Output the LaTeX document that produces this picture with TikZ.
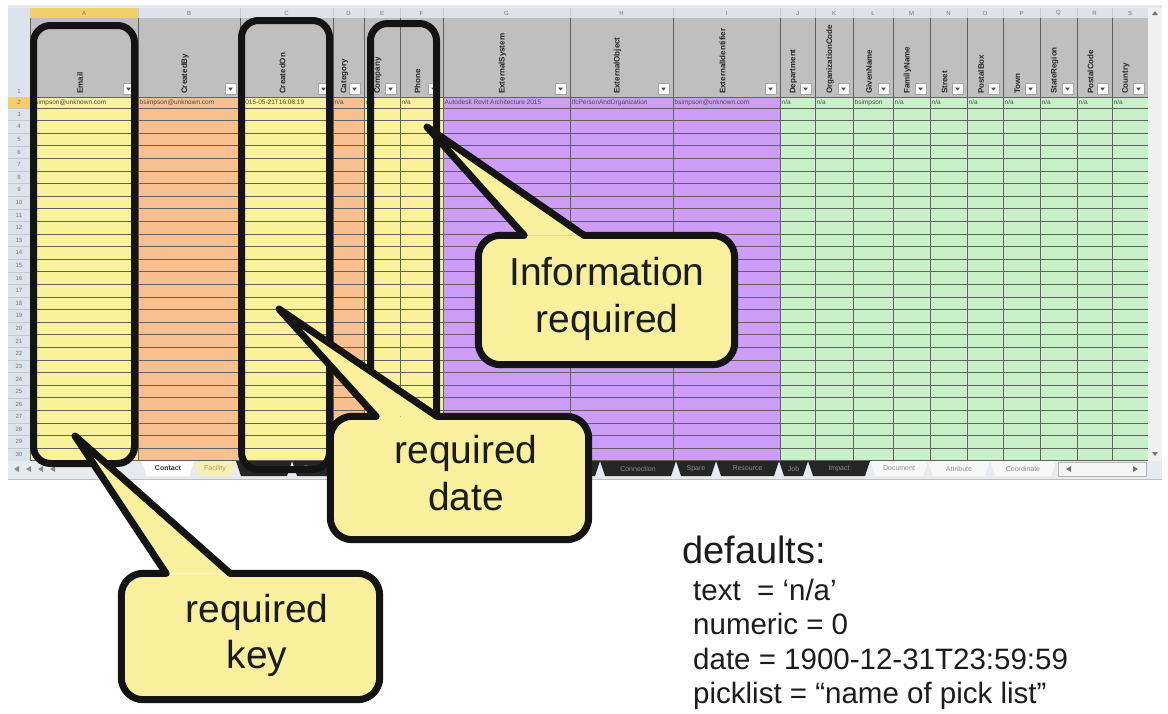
\documentclass[tikz,border=0pt]{standalone}
\usepackage{fontspec}
\setmainfont{Liberation Sans}
\usetikzlibrary{calc}
\definecolor{cy}{HTML}{F9F29A}
\definecolor{co}{HTML}{F9C08F}
\definecolor{cp}{HTML}{CD9DF7}
\definecolor{cg}{HTML}{C9F1C9}
\definecolor{callout}{HTML}{F8F09C}
\definecolor{sheetbg}{HTML}{E7EAEE}
\definecolor{hdrbar}{HTML}{DDE3EA}
\definecolor{hdrgray}{HTML}{BFBFBF}
\definecolor{gold}{HTML}{F3CF6B}
\definecolor{tabyel}{HTML}{F6F0B8}
\definecolor{ink}{HTML}{1C1C1C}
\tikzset{
  grid/.style={draw=black!62, line width=0.75pt},
  lgrid/.style={draw=black!22, line width=0.5pt},
  hdr/.style={font=\fontsize{8}{8}\selectfont\bfseries, text=black!85, inner sep=0pt, rotate=90, anchor=west},
  dat/.style={font=\fontsize{6.5}{7}\selectfont, text=black!70, inner sep=0pt, anchor=west},
  tiny/.style={font=\fontsize{6}{6}\selectfont, text=black!55, inner sep=0pt},
  tabtxt/.style={font=\fontsize{7}{7}\selectfont, inner sep=0pt},
  fbtn/.style={fill=white, draw=black!35, line width=0.4pt},
  colmark/.style={draw=black!92, line width=7pt, rounded corners=17pt},
  cbox/.style={fill=callout, draw=none, rounded corners=22pt, inner sep=0pt},
  cline/.style={draw=black!92, line width=7pt, line cap=round, line join=round},
  ctext/.style={font=\fontsize{39}{47}\selectfont, text=ink, anchor=base, inner sep=0pt},
  dhead/.style={font=\fontsize{38}{38}\selectfont, text=ink, anchor=base west, inner sep=0pt},
  dline/.style={font=\fontsize{29.5}{30}\selectfont, text=ink, anchor=base west, inner sep=0pt}
}
\begin{document}
\begin{tikzpicture}[x=1pt,y=-1pt]
\useasboundingbox (0,0) rectangle (1168,713);
\fill[white] (0,0) rectangle (1168,713);

% ---------- spreadsheet ----------
\fill[sheetbg] (8,5) rectangle (1162,479);
\draw[black!25, line width=0.6pt] (8,479) -- (1162,479);
% column letter bar
\fill[hdrbar] (8,8) rectangle (1148,18);
\fill[gold] (30,8) rectangle (138,18);
% header row
\fill[hdrgray] (30,18) rectangle (1148,97);
% row-number column
\fill[hdrbar] (8,18) rectangle (30,461);
\fill[gold] (8,97) rectangle (30,108);

\foreach \xa/\xb/\cl/\lt/\hd/\dt in {
  30/138/cy/A/Email/bsimpson@unknown.com,
  138/240/co/B/CreatedBy/bsimpson@unknown.com,
  240/333/cy/C/CreatedOn/2015-05-21T16:08:19,
  333/364/co/D/Category/{n/a},
  364/400/cy/E/Company/{n/a},
  400/443/cy/F/Phone/{n/a},
  443/570/cp/G/ExternalSystem/Autodesk Revit Architecture 2015,
  570/673/cp/H/ExternalObject/IfcPersonAndOrganization,
  673/780/cp/I/ExternalIdentifier/bsimpson@unknown.com,
  780/815/cg/J/Department/{n/a},
  815/853/cg/K/OrganizationCode/{n/a},
  853/893/cg/L/GivenName/bsimpson,
  893/930/cg/M/FamilyName/{n/a},
  930/967/cg/N/Street/{n/a},
  967/1003/cg/O/PostalBox/{n/a},
  1003/1040/cg/P/Town/{n/a},
  1040/1077/cg/Q/StateRegion/{n/a},
  1077/1112/cg/R/PostalCode/{n/a},
  1112/1148/cg/S/Country/{n/a}}{
  \fill[\cl] (\xa,97) rectangle (\xb,461);
  \node[tiny] (L\lt) at ({(\xa+\xb)/2},13) {\lt};
  \draw[lgrid] (\xb,8) -- (\xb,18);
  \node[hdr] (H\lt) at ({(\xa+\xb)/2-4},94) {\hd};
  \draw[fbtn] ({\xb-15},83) rectangle ({\xb-4},94);
  \fill[black!70] ({\xb-12},87.5) -- ({\xb-7},87.5) -- ({\xb-9.5},90.5) -- cycle;
  \begin{scope}
    \clip (\xa,97) rectangle (\xb,108);
    \node[dat] (D\lt) at ({\xa+1.5},102.5) {\dt};
  \end{scope}
}
% grid lines
\draw[grid] (30,97) -- (1148,97);
\foreach \k in {0,...,28}{
  \draw[grid] (30,{108+12.6*\k}) -- (1148,{108+12.6*\k});
  \draw[lgrid] (8,{108+12.6*\k}) -- (30,{108+12.6*\k});
}
\foreach \xb in {30,138,240,333,364,400,443,570,673,780,815,853,893,930,967,1003,1040,1077,1112,1148}{
  \draw[grid] (\xb,18) -- (\xb,461);
}
% row numbers
\node[tiny] (r1) at (19,91) {1};
\node[tiny] (r2) at (19,102.5) {2};
\foreach \k in {3,...,30}{
  \node[tiny] (r\k) at (19,{108+12.6*(\k-3)+6.3}) {\k};
}
% vertical scrollbar
\fill[black!6] (1148,8) rectangle (1162,461);
\fill[black!55] (1152,15) -- (1158,15) -- (1155,11) -- cycle;
\fill[black!55] (1152,452) -- (1158,452) -- (1155,456) -- cycle;

% tab bar
\fill[sheetbg] (8,461) rectangle (1162,478);
\foreach \tx in {14,26,38,50}{
  \fill[black!45] (\tx,469) -- ({\tx+5},466) -- ({\tx+5},472) -- cycle;
}
% dark tabs hidden under the 'required date' callout (no text visible)
\foreach \xa/\xb in {335/380,380/430,430/490,490/545,545/600}{
  \fill[black!85] (\xa,461) -- (\xb,461) -- ({\xb-5},476) -- ({\xa+5},476) -- cycle;
}
\foreach \xa/\xb/\nm [count=\i] in {236/292/Floor,292/335/Space,600/676/Connection,676/716/Spare,716/779/Resource,779/808/Job,808/870/Impact}{
  \fill[black!85] (\xa,461) -- (\xb,461) -- ({\xb-5},476) -- ({\xa+5},476) -- cycle;
  \node[tabtxt, text=black!45] (dt\i) at ({(\xa+\xb)/2},468.5) {\nm};
}
\fill[white] (142,461) -- (194,461) -- (189,476) -- (147,476) -- cycle;
\node[tabtxt, font=\fontsize{7}{7}\selectfont\bfseries, text=black!80] (tabC) at (168,468.5) {Contact};
\fill[tabyel] (194,461) -- (236,461) -- (231,476) -- (199,476) -- cycle;
\node[tabtxt, text=black!40!yellow!60!brown] (tabF) at (215,468.5) {Facility};
\foreach \xa/\xb/\nm [count=\i] in {870/928/Document,928/990/Attribute,990/1056/Coordinate}{
  \fill[black!3] (\xa,461) -- (\xb,461) -- ({\xb-5},476) -- ({\xa+5},476) -- cycle;
  \node[tabtxt, text=black!45] (lt\i) at ({(\xa+\xb)/2},468.5) {\nm};
}
\draw[black!30, fill=black!4, line width=0.4pt] (1058,462) rectangle (1146,476);
\fill[black!55] (1066,469) -- (1071,466) -- (1071,472) -- cycle;
\fill[black!55] (1138,469) -- (1133,466) -- (1133,472) -- cycle;

% ---------- column outlines ----------
\draw[colmark] (33.5,25.5) rectangle (134.5,463.5);
\draw[colmark] (241.5,20.5) rectangle (329.5,469.5);
\draw[colmark] (370.5,23.5) rectangle (436.5,464.5);

% ---------- callout 1 ----------
\node[cbox, minimum width=256pt, minimum height=129pt] (c1) at (606.5,300) {};
\coordinate (c1tip) at (427,127);
\coordinate (c1l) at (524,0 |- c1.north);
\coordinate (c1r) at (584,0 |- c1.north);
\fill[callout] (c1l) -- (c1tip) -- (c1r) -- cycle;
\draw[cline, rounded corners=22pt] (c1r) -- (c1.north east) -- (c1.south east) -- (c1.south west) -- (c1.north west) -- (c1l);
\draw[cline] (c1l) -- (c1tip) -- (c1r);
\node[ctext] (c1a) at (607,285) {Information};
\node[ctext] (c1b) at (607,332) {required};

% ---------- callout 2 ----------
\node[cbox, minimum width=258pt, minimum height=123pt] (c2) at (459.5,478) {};
\coordinate (c2tip) at (279,309);
\coordinate (c2l) at (376,0 |- c2.north);
\coordinate (c2r) at (437,0 |- c2.north);
\fill[callout] (c2l) -- (c2tip) -- (c2r) -- cycle;
\draw[cline, rounded corners=22pt] (c2r) -- (c2.north east) -- (c2.south east) -- (c2.south west) -- (c2.north west) -- (c2l);
\draw[cline] (c2l) -- (c2tip) -- (c2r);
\node[ctext] (c2a) at (466,463) {required};
\node[ctext] (c2b) at (466,510) {date};

% ---------- callout 3 ----------
\node[cbox, minimum width=258pt, minimum height=126pt] (c3) at (250.5,636.5) {};
\coordinate (c3tip) at (75,436);
\coordinate (c3l) at (166,0 |- c3.north);
\coordinate (c3r) at (230,0 |- c3.north);
\fill[callout] (c3l) -- (c3tip) -- (c3r) -- cycle;
\draw[cline, rounded corners=22pt] (c3r) -- (c3.north east) -- (c3.south east) -- (c3.south west) -- (c3.north west) -- (c3l);
\draw[cline] (c3l) -- (c3tip) -- (c3r);
\node[ctext] (c3a) at (257,622) {required};
\node[ctext] (c3b) at (257,668) {key};

% ---------- defaults ----------
\node[dhead] (dh) at (682,563) {defaults:};
\node[dline] (dl1) at (693,600) {text\ \ = ‘n/a’};
\node[dline] (dl2) at (693,634.5) {numeric = 0};
\node[dline] (dl3) at (693,669) {date = 1900-12-31T23:59:59};
\node[dline] (dl4) at (693,703) {picklist = “name of pick list”};
\end{tikzpicture}
\end{document}
